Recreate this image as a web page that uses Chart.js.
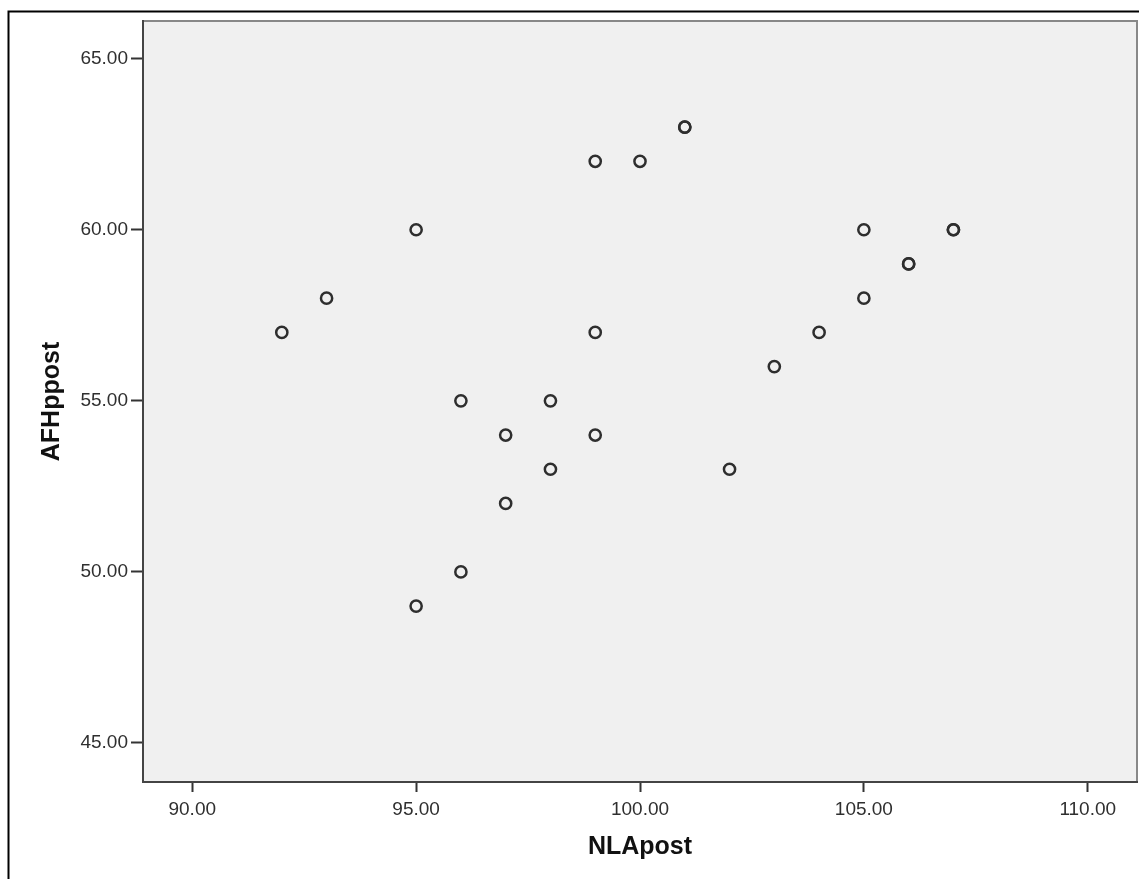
<!DOCTYPE html>
<html>
<head>
<meta charset="utf-8">
<script src="https://cdn.jsdelivr.net/npm/chart.js@4/dist/chart.umd.min.js"></script>
<style>
  body { margin: 0; background: #fff; }
  canvas { display: block; }
</style>
</head>
<body>
<canvas id="scatter" width="1139" height="879"></canvas>
<script>
// NLApost (x) against AFHppost (y), repeated pairs are drawn twice
const nlaPost = [92, 93, 95, 95, 96, 96, 97, 97, 98, 98, 99, 99, 99, 100, 101, 101, 102, 103, 104, 105, 105, 106, 106, 107, 107];
const afhPost = [57, 58, 60, 49, 55, 50, 54, 52, 55, 53, 62, 57, 54, 62, 63, 63, 53, 56, 57, 60, 58, 59, 59, 60, 60];
const xTicks = [90, 95, 100, 105, 110];
const yTicks = [45, 50, 55, 60, 65];

const points = nlaPost.map((x, i) => ({ x: x, y: afhPost[i] }));

// grey plot background + frames
const framePlugin = {
    id: 'frame',
    beforeDraw(chart) {
        const c = chart.ctx;
        const a = chart.chartArea;
        c.save();
        c.fillStyle = '#ffffff';
        c.fillRect(0, 0, chart.width, chart.height);
        c.fillStyle = '#f0f0f0';
        c.fillRect(a.left, a.top, a.right - a.left, a.bottom - a.top);
        c.strokeStyle = '#888888';
        c.lineWidth = 2;
        c.beginPath();
        c.moveTo(a.left, a.top);
        c.lineTo(a.right, a.top);
        c.lineTo(a.right, a.bottom);
        c.stroke();
        c.restore();
    },
    afterDraw(chart) {
        const c = chart.ctx;
        c.save();
        c.strokeStyle = '#000000';
        c.lineWidth = 2;
        c.strokeRect(8.5, 11.5, chart.width + 20, chart.height + 20);
        c.restore();
    }
};

new Chart(document.getElementById('scatter').getContext('2d'), {
    type: 'scatter',
    data: {
        datasets: [{
            label: 'AFHppost',
            data: points,
            pointRadius: 5.6,
            pointBorderWidth: 2.5,
            pointBorderColor: '#2e2e2e',
            pointBackgroundColor: 'rgba(0,0,0,0)'
        }]
    },
    options: {
        responsive: false,
        animation: false,
        events: [],
        layout: { autoPadding: false, padding: { left: 8, top: 21, right: 2, bottom: 0 } },
        plugins: {
            legend: { display: false },
            tooltip: { enabled: false }
        },
        scales: {
            x: {
                type: 'linear',
                min: 88.9,
                max: 111.1,
                afterBuildTicks: scale => { scale.ticks = xTicks.map(v => ({ value: v })); },
                afterFit: scale => {
                    scale.height = 97;
                    scale.paddingLeft = 0;
                    scale.paddingRight = 0;
                },
                grid: { drawOnChartArea: false, tickLength: 10, tickWidth: 2, tickColor: '#333333' },
                border: { color: '#444444', width: 2 },
                ticks: {
                    padding: 6,
                    maxRotation: 0,
                    color: '#2f2f2f',
                    font: { family: 'Liberation Sans, Arial, sans-serif', size: 19 },
                    callback: v => Number(v).toFixed(2)
                },
                title: {
                    display: true,
                    text: 'NLApost',
                    color: '#111111',
                    padding: { top: 0, bottom: 17 },
                    font: { family: 'Liberation Sans, Arial, sans-serif', size: 25, weight: 'bold' }
                }
            },
            y: {
                type: 'linear',
                min: 43.86,
                max: 66.1,
                afterBuildTicks: scale => { scale.ticks = yTicks.map(v => ({ value: v })); },
                afterFit: scale => {
                    scale.width = 135;
                    scale.paddingTop = 0;
                    scale.paddingBottom = 0;
                },
                grid: { drawOnChartArea: false, tickLength: 12, tickWidth: 2, tickColor: '#333333' },
                border: { color: '#444444', width: 2 },
                ticks: {
                    padding: 3,
                    color: '#2f2f2f',
                    font: { family: 'Liberation Sans, Arial, sans-serif', size: 19 },
                    callback: v => Number(v).toFixed(2)
                },
                title: {
                    display: true,
                    text: 'AFHppost',
                    color: '#111111',
                    padding: { top: 29, bottom: 0 },
                    font: { family: 'Liberation Sans, Arial, sans-serif', size: 25, weight: 'bold' }
                }
            }
        }
    },
    plugins: [framePlugin]
});
</script>
</body>
</html>
